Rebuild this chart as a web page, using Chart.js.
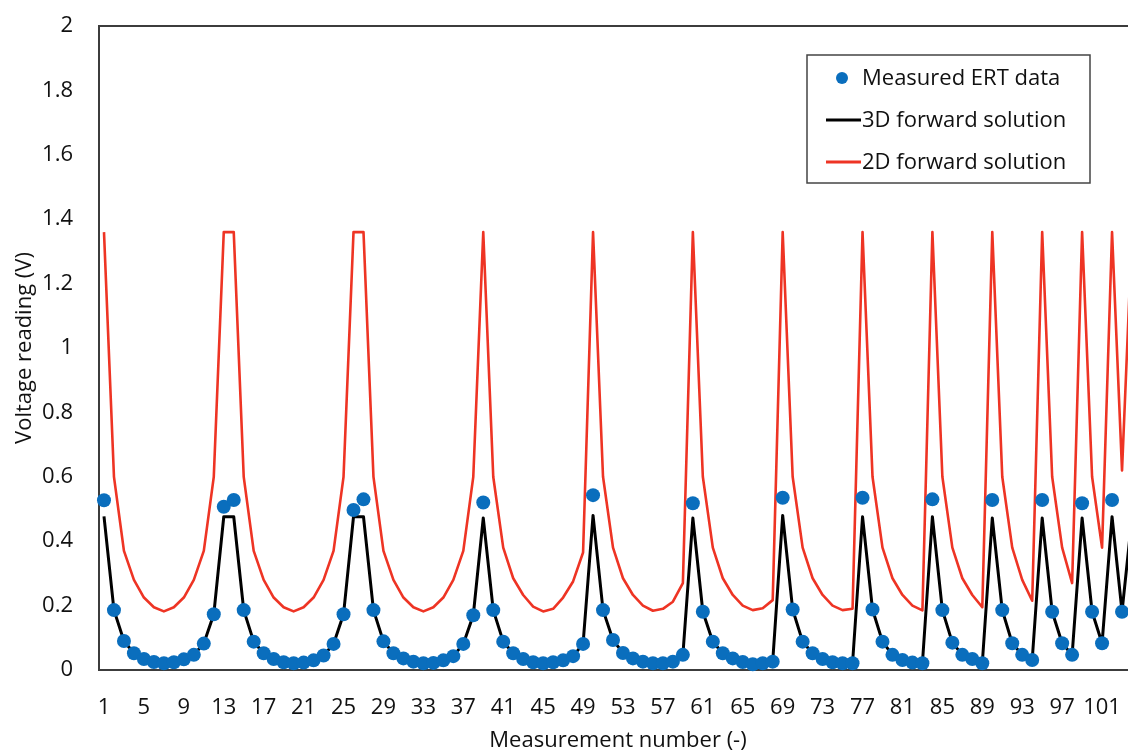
<!DOCTYPE html>
<html><head><meta charset="utf-8">
<script src="https://cdn.jsdelivr.net/npm/chart.js@4.4.1/dist/chart.umd.min.js"></script>
<style>
html,body{margin:0;padding:0;background:#fff;overflow:hidden;width:1128px;height:754px;}
#wrap{width:1144px;height:754px;position:relative;}
canvas{display:block;}
</style></head><body>
<div id="wrap"><canvas id="c" width="1144" height="754"></canvas></div>
<script>
// Categories: measurement number 1..104 (104 is cut off at the right edge of the picture)
const measurementNumbers = [
 1,2,3,4,5,6,7,8,9,10,11,12,13,14,15,16,17,18,19,20,21,22,23,24,25,26,27,28,29,30,
 31,32,33,34,35,36,37,38,39,40,41,42,43,44,45,46,47,48,49,50,51,52,53,54,55,56,57,58,59,60,
 61,62,63,64,65,66,67,68,69,70,71,72,73,74,75,76,77,78,79,80,81,82,83,84,85,86,87,88,89,90,
 91,92,93,94,95,96,97,98,99,100,101,102,103,104
];
const xTickLabels = [1,5,9,13,17,21,25,29,33,37,41,45,49,53,57,61,65,69,73,77,81,85,89,93,97,101];
const yTickValues = [0,0.2,0.4,0.6,0.8,1,1.2,1.4,1.6,1.8,2];

const measuredERT = [
 0.527,0.186,0.090,0.052,0.034,0.025,0.021,0.024,0.033,0.047,0.082,0.173,0.507,
 0.528,0.186,0.088,0.052,0.034,0.024,0.021,0.023,0.030,0.045,0.081,0.173,0.497,
 0.530,0.186,0.089,0.052,0.036,0.026,0.021,0.022,0.030,0.043,0.081,0.170,0.520,
 0.186,0.088,0.052,0.034,0.024,0.021,0.024,0.030,0.043,0.081,0.543,
 0.186,0.093,0.053,0.036,0.026,0.021,0.021,0.026,0.047,0.518,
 0.181,0.088,0.052,0.036,0.025,0.018,0.021,0.026,0.535,
 0.188,0.088,0.052,0.034,0.024,0.021,0.021,0.535,
 0.188,0.088,0.047,0.031,0.023,0.021,0.530,
 0.186,0.085,0.047,0.034,0.021,0.528,
 0.186,0.083,0.047,0.031,0.528,
 0.181,0.083,0.047,0.518,
 0.181,0.083,0.528,
 0.181,null
];
const forward3D = [
 0.477,0.186,0.090,0.052,0.034,0.025,0.021,0.024,0.033,0.047,0.082,0.173,0.476,
 0.476,0.186,0.088,0.052,0.034,0.024,0.021,0.023,0.030,0.045,0.081,0.173,0.476,
 0.476,0.186,0.089,0.052,0.036,0.026,0.021,0.022,0.030,0.043,0.081,0.170,0.472,
 0.186,0.088,0.052,0.034,0.024,0.021,0.024,0.030,0.043,0.081,0.480,
 0.186,0.093,0.053,0.036,0.026,0.021,0.021,0.026,0.047,0.472,
 0.181,0.088,0.052,0.036,0.025,0.018,0.021,0.026,0.480,
 0.188,0.088,0.052,0.034,0.024,0.021,0.021,0.476,
 0.188,0.088,0.047,0.031,0.023,0.021,0.476,
 0.186,0.085,0.047,0.034,0.021,0.472,
 0.186,0.083,0.047,0.031,0.472,
 0.181,0.083,0.047,0.472,
 0.181,0.083,0.476,
 0.181,0.476
];
const forward2D = [
 1.36,0.60,0.37,0.28,0.225,0.195,0.182,0.195,0.225,0.28,0.37,0.60,1.36,
 1.36,0.60,0.37,0.28,0.225,0.195,0.182,0.195,0.225,0.28,0.37,0.60,1.36,
 1.36,0.60,0.37,0.28,0.225,0.195,0.182,0.195,0.225,0.28,0.37,0.60,1.36,
 0.60,0.38,0.285,0.233,0.197,0.182,0.19,0.225,0.275,0.365,1.36,
 0.60,0.38,0.285,0.233,0.20,0.184,0.19,0.212,0.27,1.36,
 0.60,0.38,0.285,0.233,0.20,0.186,0.192,0.217,1.36,
 0.60,0.38,0.285,0.233,0.20,0.186,0.19,1.36,
 0.60,0.38,0.285,0.233,0.20,0.185,1.36,
 0.60,0.38,0.285,0.233,0.195,1.36,
 0.60,0.38,0.28,0.215,1.36,
 0.60,0.38,0.27,1.36,
 0.60,0.38,1.36,
 0.62,1.36
];

const FONT = "'Open Sans', 'Noto Sans', sans-serif";
const FSIZE = 22;
const TEXT = '#111111';

const frame = {
  id: 'frame',
  beforeDatasetsDraw(chart) {
    const {ctx, chartArea:a} = chart;
    ctx.save();
    ctx.strokeStyle = '#3c3c3c';
    ctx.lineWidth = 2;
    ctx.strokeRect(a.left, a.top, a.right - a.left, a.bottom - a.top);
    ctx.restore();
  }
};

const innerLegend = {
  id: 'innerLegend',
  afterDraw(chart) {
    const {ctx} = chart;
    const box = {x: 807, y: 55, w: 283, h: 128};
    ctx.save();
    ctx.fillStyle = '#ffffff';
    ctx.fillRect(box.x, box.y, box.w, box.h);
    ctx.strokeStyle = '#444444';
    ctx.lineWidth = 1.5;
    ctx.strokeRect(box.x, box.y, box.w, box.h);
    ctx.font = FSIZE + "px " + FONT;
    ctx.textBaseline = 'middle';
    ctx.textAlign = 'left';
    const rows = [78, 120, 162];
    const order = [2, 1, 0];
    order.forEach((di, r) => {
      const ds = chart.data.datasets[di];
      const y = rows[r];
      if (ds.showLine === false) {
        ctx.beginPath();
        ctx.fillStyle = ds.pointBackgroundColor;
        ctx.arc(842, y, 6, 0, Math.PI * 2);
        ctx.fill();
      } else {
        ctx.beginPath();
        ctx.strokeStyle = ds.borderColor;
        ctx.lineWidth = 3;
        ctx.moveTo(826, y);
        ctx.lineTo(861, y);
        ctx.stroke();
      }
      ctx.fillStyle = TEXT;
      ctx.fillText(ds.label, 862, y + 1);
    });
    ctx.restore();
  }
};

new Chart(document.getElementById('c'), {
  type: 'line',
  data: {
    labels: measurementNumbers.map(String),
    datasets: [
      {
        label: '2D forward solution',
        data: forward2D,
        borderColor: '#ee3424',
        borderWidth: 2.6,
        pointRadius: 0,
        tension: 0,
        borderJoinStyle: 'round',
        order: 3
      },
      {
        label: '3D forward solution',
        data: forward3D,
        borderColor: '#000000',
        borderWidth: 3,
        pointRadius: 0,
        tension: 0,
        borderJoinStyle: 'round',
        order: 2
      },
      {
        label: 'Measured ERT data',
        data: measuredERT,
        showLine: false,
        pointRadius: 7,
        pointBackgroundColor: '#0a6ebd',
        pointBorderColor: '#0a6ebd',
        pointBorderWidth: 0,
        clip: 12,
        order: 1
      }
    ]
  },
  options: {
    responsive: false,
    devicePixelRatio: 1,
    animation: false,
    events: [],
    layout: {padding: {top: 26, right: 0, left: 0, bottom: 0}},
    plugins: {legend: {display: false}, tooltip: {enabled: false}},
    scales: {
      x: {
        type: 'category',
        offset: true,
        grid: {display: false, drawTicks: false},
        border: {display: false},
        ticks: {
          autoSkip: false,
          maxRotation: 0,
          minRotation: 0,
          padding: 25,
          color: TEXT,
          font: {family: FONT, size: FSIZE},
          callback(value, index) {
            const n = measurementNumbers[index];
            return xTickLabels.includes(n) ? String(n) : '';
          }
        },
        title: {
          display: true,
          text: 'Measurement number (-)',
          color: TEXT,
          font: {family: FONT, size: FSIZE},
          padding: {top: 1, bottom: 0}
        },
        afterFit(scale) { scale.height = 84; scale.paddingLeft = 0; scale.paddingRight = 0; }
      },
      y: {
        min: 0,
        max: 2,
        grid: {display: false, drawTicks: false},
        border: {display: false},
        afterBuildTicks(scale) { scale.ticks = yTickValues.map(v => ({value: v})); },
        ticks: {
          padding: 26,
          color: TEXT,
          font: {family: FONT, size: FSIZE},
          callback(value) { return String(Math.round(value * 10) / 10); }
        },
        title: {
          display: true,
          text: 'Voltage reading (V)',
          color: TEXT,
          font: {family: FONT, size: FSIZE},
          padding: {top: 12, bottom: 12}
        },
        afterFit(scale) { scale.width = 99; scale.paddingTop = 0; scale.paddingBottom = 0; }
      }
    }
  },
  plugins: [frame, innerLegend]
});
</script>
</body></html>
